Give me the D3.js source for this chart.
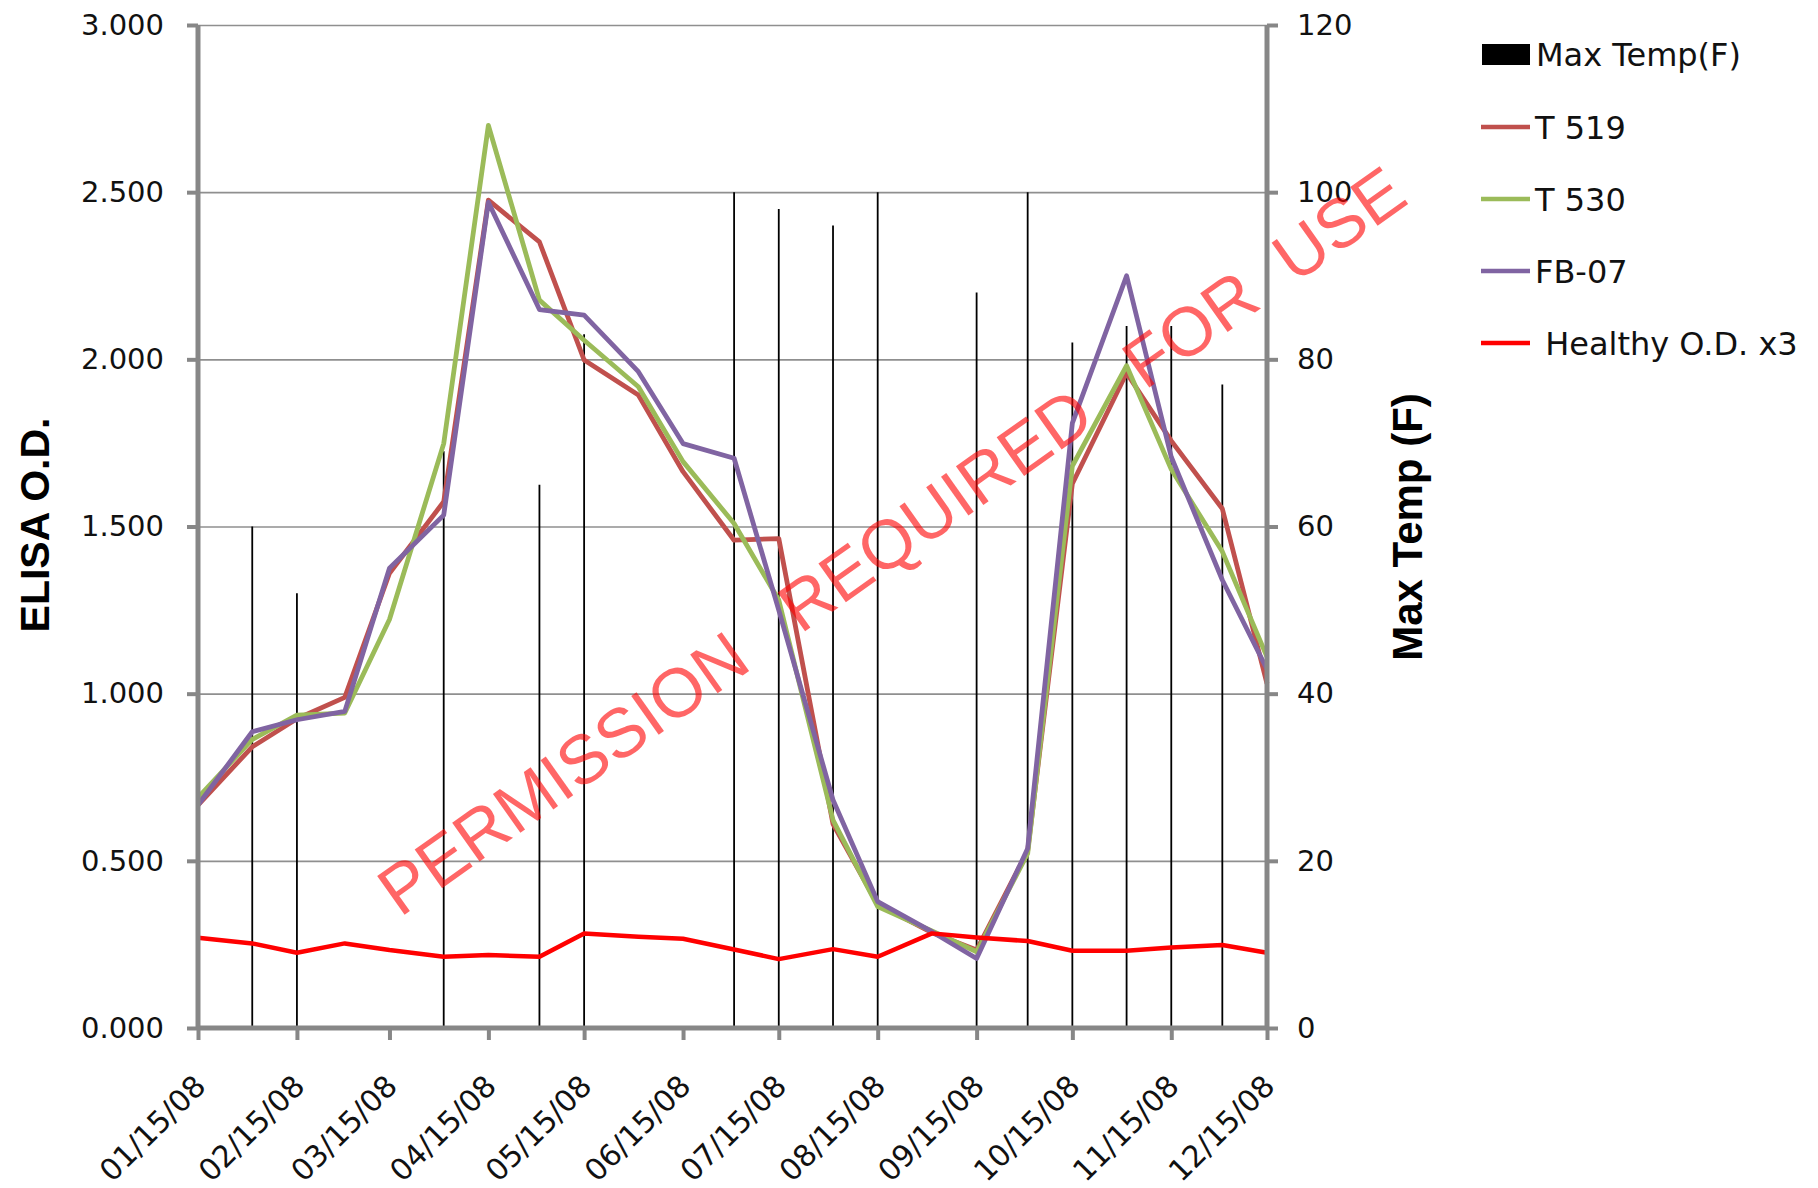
<!DOCTYPE html>
<html>
<head>
<meta charset="utf-8">
<script src="https://cdn.jsdelivr.net/npm/d3@7"></script>
<style>
  html, body { margin: 0; padding: 0; background: #fff; }
  svg { display: block; }
</style>
</head>
<body>
<svg id="chart" width="1818" height="1188"></svg>
<script>
// Sampling dates (1st and 15th of each month, 2008)
const dates = ["2008-01-15","2008-02-01","2008-02-15","2008-03-01","2008-03-15","2008-04-01","2008-04-15",
  "2008-05-01","2008-05-15","2008-06-01","2008-06-15","2008-07-01","2008-07-15","2008-08-01","2008-08-15",
  "2008-09-01","2008-09-15","2008-10-01","2008-10-15","2008-11-01","2008-11-15","2008-12-01","2008-12-15"];

// Max temperature (F), right axis; null where no reading
const maxTemp = [null, 60, 52, null, null, 69, null, 65, 83, null, null, 100, 98, 96, 100, null, 88, 100, 82, 84, 84, 77, null];

// ELISA O.D. readings, left axis
const t519 = [0.667, 0.841, 0.925, 0.989, 1.360, 1.574, 2.476, 2.351, 1.998, 1.893, 1.664, 1.459, 1.464, 0.610, 0.370, 0.285, 0.233, 0.530, 1.628, 1.959, 1.756, 1.553, 1.030];
const t530 = [0.689, 0.863, 0.936, 0.942, 1.222, 1.748, 2.700, 2.177, 2.057, 1.918, 1.694, 1.509, 1.280, 0.622, 0.363, 0.290, 0.228, 0.522, 1.681, 1.981, 1.671, 1.425, 1.110];
const fb07 = [0.667, 0.886, 0.922, 0.947, 1.375, 1.534, 2.470, 2.149, 2.132, 1.963, 1.748, 1.704, 1.250, 0.682, 0.378, 0.288, 0.208, 0.537, 1.809, 2.250, 1.708, 1.340, 1.073];
const healthy = [0.270, 0.253, 0.225, 0.253, 0.233, 0.213, 0.218, 0.213, 0.283, 0.273, 0.267, 0.235, 0.206, 0.236, 0.213, 0.283, 0.271, 0.260, 0.231, 0.231, 0.241, 0.248, 0.225];

// Axis ticks
const xTickDates = ["2008-01-15","2008-02-15","2008-03-15","2008-04-15","2008-05-15","2008-06-15",
  "2008-07-15","2008-08-15","2008-09-15","2008-10-15","2008-11-15","2008-12-15"];
const leftTicks = [0, 0.5, 1.0, 1.5, 2.0, 2.5, 3.0];
const rightTicks = [0, 20, 40, 60, 80, 100, 120];

const seriesNames = ["T 519", "T 530", "FB-07", " Healthy O.D. x3"];
const seriesColors = ["#C0504D", "#9BBB59", "#8064A2", "#FF0000"];

const parse = d3.timeParse("%Y-%m-%d");
const dateObjs = dates.map(parse);

const plotLeft = 198, plotRight = 1267, plotTop = 25, plotBottom = 1028;
const svg = d3.select("#chart");

const x = d3.scaleTime().domain([parse("2008-01-15"), parse("2008-12-15")]).range([plotLeft, plotRight]);
const yL = d3.scaleLinear().domain([0, 3]).range([plotBottom, plotTop]);
const yR = d3.scaleLinear().domain([0, 120]).range([plotBottom, plotTop]);

const axisColor = "#878787";
const tickFont = "'DejaVu Sans', sans-serif";

// Horizontal gridlines
const grid = svg.append("g").attr("transform", `translate(${plotLeft},0)`)
  .call(d3.axisLeft(yL).tickValues(leftTicks.slice(1)).tickSize(-(plotRight - plotLeft)).tickFormat(""));
grid.select(".domain").remove();
grid.selectAll("line").attr("stroke", "#8f8f8f").attr("stroke-width", 1.6);

// Max temperature columns (drawn as thin bars on the date axis)
const tempData = dateObjs.map((d, i) => ({ d, v: maxTemp[i] })).filter(p => p.v != null);
svg.append("g").selectAll("line").data(tempData).join("line")
  .attr("x1", p => x(p.d)).attr("x2", p => x(p.d))
  .attr("y1", yR(0)).attr("y2", p => yR(p.v))
  .attr("stroke", "#000").attr("stroke-width", 1.8);

// ELISA series lines
const allSeries = [t519, t530, fb07, healthy];
const line = d3.line().x((v, i) => x(dateObjs[i])).y(v => yL(v));
svg.append("g").selectAll("path").data(allSeries).join("path")
  .attr("d", s => line(s))
  .attr("fill", "none")
  .attr("stroke", (s, i) => seriesColors[i])
  .attr("stroke-width", (s, i) => i === 3 ? 4.5 : 4.8)
  .attr("stroke-linejoin", "round");

// Left axis
const axL = svg.append("g").attr("transform", `translate(${plotLeft},0)`)
  .call(d3.axisLeft(yL).tickValues(leftTicks).tickFormat(d3.format(".3f")).tickSize(11).tickPadding(23));
// Right axis
const axR = svg.append("g").attr("transform", `translate(${plotRight},0)`)
  .call(d3.axisRight(yR).tickValues(rightTicks).tickFormat(d3.format("d")).tickSize(11).tickPadding(19));
// Bottom axis
const axB = svg.append("g").attr("transform", `translate(0,${plotBottom})`)
  .call(d3.axisBottom(x).tickValues(xTickDates.map(parse)).tickFormat(d3.timeFormat("%m/%d/%y")).tickSize(12));

[axL, axR, axB].forEach(ax => {
  ax.select(".domain").attr("stroke", axisColor).attr("stroke-width", 5);
  ax.selectAll(".tick line").attr("stroke", axisColor).attr("stroke-width", 4);
  ax.selectAll("text").attr("font-family", tickFont).attr("font-size", 29).attr("fill", "#111");
});
axL.select(".domain").attr("d", `M0,${plotBottom}V${plotTop}`);
axR.select(".domain").attr("d", `M0,${plotBottom}V${plotTop}`);
axB.select(".domain").attr("d", `M${plotLeft},0H${plotRight}`);

// Date labels, slanted up to the right and ending at their tick
axB.selectAll("text")
  .attr("font-size", 30)
  .attr("text-anchor", "end")
  .attr("y", null).attr("dy", null)
  .attr("transform", "translate(9,60) rotate(-45)");

// Axis titles
svg.append("text")
  .attr("transform", "translate(49,525) rotate(-90)")
  .attr("text-anchor", "middle")
  .attr("font-family", "'Liberation Sans', Arial, sans-serif")
  .attr("font-weight", "bold").attr("font-size", 41).attr("fill", "#000")
  .text("ELISA O.D.");
svg.append("text")
  .attr("transform", "translate(1422,527) rotate(-90)")
  .attr("text-anchor", "middle")
  .attr("font-family", "'Liberation Sans', Arial, sans-serif")
  .attr("font-weight", "bold").attr("font-size", 42).attr("fill", "#000")
  .text("Max Temp (F)");

// Legend
const legend = svg.append("g").attr("font-family", tickFont).attr("font-size", 32).attr("fill", "#111");
legend.append("rect").attr("x", 1482).attr("y", 44).attr("width", 48).attr("height", 21).attr("fill", "#000");
legend.append("text").attr("x", 1536).attr("y", 66).text("Max Temp(F)");
const legendY = [127, 199, 271, 343];
seriesNames.forEach((name, i) => {
  legend.append("line").attr("x1", 1481).attr("x2", 1530).attr("y1", legendY[i]).attr("y2", legendY[i])
    .attr("stroke", seriesColors[i]).attr("stroke-width", 4.5);
  legend.append("text").attr("x", 1535).attr("y", legendY[i] + 12)
    .style("white-space", "pre").text(name);
});

// Watermark
svg.append("text")
  .attr("transform", "translate(400,918) rotate(-35.3)")
  .attr("font-family", "'Liberation Sans', Arial, sans-serif")
  .attr("font-size", 69)
  .attr("fill", "#ff0000").attr("fill-opacity", 0.6)
  .style("white-space", "pre")
  .text("PERMISSION   REQUIRED   FOR  USE");
</script>
</body>
</html>
